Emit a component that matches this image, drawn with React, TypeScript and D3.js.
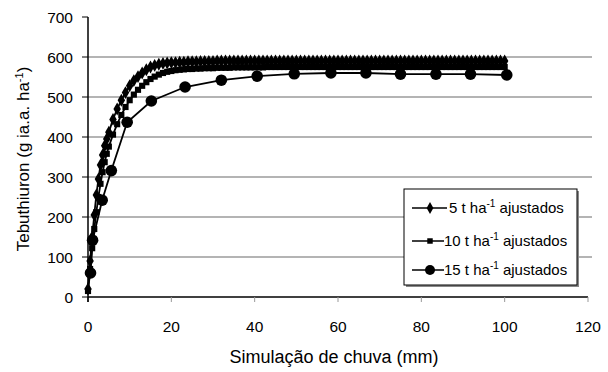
import React, { useEffect, useRef } from 'react';
import * as d3 from 'd3';

// rainfall simulation (mm) and tebuthiuron (g ia.a. ha-1)
const x5 = [0, 0.5, 1, 1.5, 2, 2.5, 3, 3.5, 4, 4.5, 5, 6, 7, 8, 9, 10, 11, 12, 13, 14, 15, 16, 17, 18, 19, 20,
  21, 22, 23, 24, 25, 26, 27, 28, 29, 30, 31, 32, 33, 34, 35, 36, 37, 38, 39, 40, 41, 42, 43, 44, 45, 46, 47, 48, 49, 50,
  51, 52, 53, 54, 55, 56, 57, 58, 59, 60, 61, 62, 63, 64, 65, 66, 67, 68, 69, 70, 71, 72, 73, 74, 75, 76, 77, 78, 79, 80,
  81, 82, 83, 84, 85, 86, 87, 88, 89, 90, 91, 92, 93, 94, 95, 96, 97, 98, 99, 100];
const y5 = [20, 90, 150, 205, 255, 295, 330, 355, 378, 395, 412, 444, 470, 492, 511, 528, 541, 551, 560, 568, 575, 579, 582, 584, 585, 586,
  586, 587, 587, 588, 588, 588, 589, 589, 589, 589, 590, 590, 590, 590, 590, 590, 590, 590, 590, 590, 590, 590, 590, 590, 590, 590, 590, 590, 590, 590,
  590, 590, 590, 590, 590, 590, 590, 590, 590, 590, 590, 590, 590, 590, 590, 590, 590, 590, 590, 590, 590, 590, 590, 590, 590, 590, 590, 590, 590, 590,
  590, 590, 590, 590, 590, 590, 590, 590, 590, 590, 590, 590, 590, 590, 590, 590, 590, 590, 590, 590];

const x10 = x5;
const y10 = [15, 70, 122, 170, 212, 250, 283, 312, 337, 358, 376, 406, 432, 455, 475, 492, 506, 518, 528, 537, 545, 551, 556, 560, 563, 565,
  567, 568, 569, 570, 570, 571, 571, 572, 572, 572, 573, 573, 573, 573, 574, 574, 574, 574, 574, 574, 574, 574, 575, 575, 575, 575, 575, 575, 575, 575,
  575, 575, 575, 575, 575, 575, 575, 575, 575, 575, 575, 575, 575, 575, 575, 575, 575, 575, 575, 575, 575, 575, 575, 575, 575, 575, 575, 575, 575, 575,
  575, 575, 575, 575, 575, 575, 575, 575, 575, 575, 575, 575, 575, 575, 575, 575, 575, 575, 575, 575];

const x15 = [0.6, 1.1, 3.4, 5.6, 9.4, 15.2, 23.3, 32, 40.6, 49.5, 58.3, 66.7, 75, 83.5, 91.8, 100.5];
const y15 = [60, 142, 242, 316, 437, 490, 525, 542, 552, 558, 560, 560, 557, 557, 557, 555];

const xTicks = [0, 20, 40, 60, 80, 100, 120];
const yTicks = [0, 100, 200, 300, 400, 500, 600, 700];
const legendLabels = ['5', '10', '15'];

const App: React.FC = () => {
  const svgRef = useRef<SVGSVGElement>(null);

  useEffect(() => {
    if (!svgRef.current) return;
    const svg = d3.select(svgRef.current);
    svg.selectAll('*').remove();

    const font = 'Liberation Sans, Arial, sans-serif';
    const x = d3.scaleLinear().domain([0, 120]).range([88, 588]);
    const y = d3.scaleLinear().domain([0, 700]).range([297, 17]);

    // gridlines
    svg.append('g')
      .selectAll('line')
      .data(yTicks.filter(d => d > 0 && d < 700))
      .join('line')
      .attr('x1', x(0)).attr('x2', 592)
      .attr('y1', d => y(d)).attr('y2', d => y(d))
      .attr('stroke', '#b4b4b4').attr('stroke-width', 2);

    // x axis
    svg.append('line')
      .attr('x1', x(0)).attr('x2', x(120)).attr('y1', y(0)).attr('y2', y(0))
      .attr('stroke', '#000').attr('stroke-width', 1.5);
    svg.append('g').selectAll('line').data(xTicks).join('line')
      .attr('x1', d => x(d)).attr('x2', d => x(d)).attr('y1', y(0)).attr('y2', y(0) + 5)
      .attr('stroke', d => (d === 0 ? '#000' : '#999')).attr('stroke-width', 1);
    svg.append('g').selectAll('text').data(xTicks).join('text')
      .attr('x', d => x(d)).attr('y', 332)
      .attr('text-anchor', 'middle').attr('font-family', font).attr('font-size', 15.5)
      .text(d => d);

    // y axis
    svg.append('line')
      .attr('x1', x(0)).attr('x2', x(0)).attr('y1', y(700)).attr('y2', y(0) + 5)
      .attr('stroke', '#000').attr('stroke-width', 1.5);
    svg.append('g').selectAll('line').data(yTicks).join('line')
      .attr('x1', x(0) - 6).attr('x2', x(0)).attr('y1', d => y(d)).attr('y2', d => y(d))
      .attr('stroke', '#000').attr('stroke-width', 1);
    svg.append('g').selectAll('text').data(yTicks).join('text')
      .attr('x', 73).attr('y', d => y(d) + 5.5)
      .attr('text-anchor', 'end').attr('font-family', font).attr('font-size', 15.5)
      .text(d => d);

    // axis titles
    svg.append('text')
      .attr('x', 334).attr('y', 363)
      .attr('text-anchor', 'middle').attr('font-family', font).attr('font-size', 18)
      .text('Simulação de chuva (mm)');
    const yt = svg.append('text')
      .attr('transform', 'translate(29,159) rotate(-90)')
      .attr('text-anchor', 'middle').attr('font-family', font).attr('font-size', 17);
    yt.append('tspan').text('Tebuthiuron (g ia.a. ha');
    yt.append('tspan').attr('dy', -6).attr('font-size', 11).text('-1');
    yt.append('tspan').attr('dy', 6).text(')');

    const line = d3.line<[number, number]>().x(d => x(d[0])).y(d => y(d[1]));
    const pts = (xs: number[], ys: number[]) => xs.map((v, i) => [v, ys[i]] as [number, number]);
    const s5 = pts(x5, y5);
    const s10 = pts(x10, y10);
    const s15 = [[0, 25] as [number, number], ...pts(x15, y15)];

    const plot = svg.append('g');
    [s10, s5, s15].forEach(s => {
      plot.append('path').attr('d', line(s)).attr('fill', 'none')
        .attr('stroke', '#000').attr('stroke-width', 1.8);
    });

    const diamond = d3.symbol().type(d3.symbolDiamond).size(48);
    const square = d3.symbol().type(d3.symbolSquare).size(38);

    plot.append('g').selectAll('path').data(s10).join('path')
      .attr('d', square()).attr('transform', d => `translate(${x(d[0])},${y(d[1])})`).attr('fill', '#000');
    plot.append('g').selectAll('path').data(s5).join('path')
      .attr('d', diamond()).attr('transform', d => `translate(${x(d[0])},${y(d[1])})`).attr('fill', '#000');
    plot.append('g').selectAll('circle').data(pts(x15, y15)).join('circle')
      .attr('cx', d => x(d[0])).attr('cy', d => y(d[1])).attr('r', 5.8).attr('fill', '#000');

    // legend
    const lg = svg.append('g');
    lg.append('rect').attr('x', 406).attr('y', 191).attr('width', 173).attr('height', 96).attr('fill', '#888');
    lg.append('rect').attr('x', 404).attr('y', 189).attr('width', 173).attr('height', 96)
      .attr('fill', '#fff').attr('stroke', '#000').attr('stroke-width', 1);
    const rows = [208, 241, 270];
    const symbols = [d3.symbol().type(d3.symbolDiamond).size(40)(), d3.symbol().type(d3.symbolSquare).size(30)(), null];
    legendLabels.forEach((lab, i) => {
      const ry = rows[i];
      lg.append('line').attr('x1', 412).attr('x2', i === 0 ? 447 : 444).attr('y1', ry).attr('y2', ry)
        .attr('stroke', '#000').attr('stroke-width', 1.5);
      if (symbols[i]) {
        lg.append('path').attr('d', symbols[i] as string).attr('transform', `translate(430,${ry})`).attr('fill', '#000');
      } else {
        lg.append('circle').attr('cx', 430).attr('cy', ry).attr('r', 5).attr('fill', '#000');
      }
      const t = lg.append('text').attr('x', i === 0 ? 449 : 444).attr('y', ry + 5)
        .attr('font-family', font).attr('font-size', 15);
      t.append('tspan').text(`${lab} t ha`);
      t.append('tspan').attr('dy', -6).attr('font-size', 10).text('-1');
      t.append('tspan').attr('dy', 6).text(' ajustados');
    });
  }, []);

  return (
    <svg ref={svgRef} width={608} height={372}
      style={{ position: 'absolute', left: 0, top: 0, background: '#fff' }} />
  );
};

export default App;
